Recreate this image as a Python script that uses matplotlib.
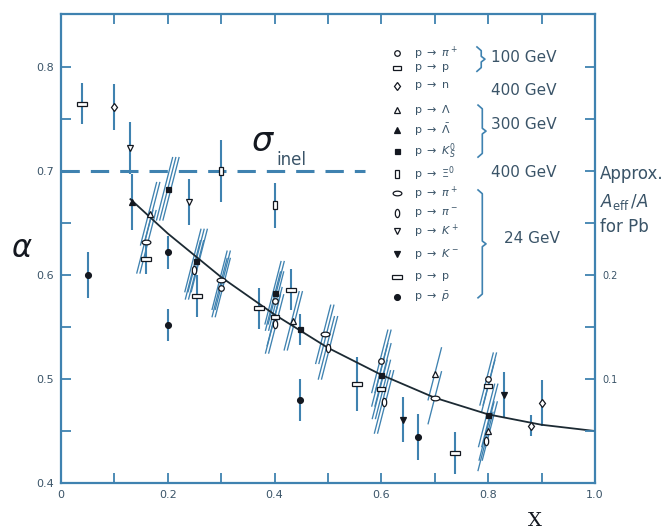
import matplotlib
matplotlib.use('Agg')
import matplotlib.pyplot as plt
from matplotlib.markers import MarkerStyle
from matplotlib.transforms import Affine2D

plt.rcParams['font.family'] = ['DejaVu Sans']
plt.rcParams['mathtext.fontset'] = 'dejavusans'

# ---------------- data ----------------
x_major = [0.0, 0.2, 0.4, 0.6, 0.8, 1.0]
x_major_labels = ['0', '0.2', '0.4', '0.6', '0.8', '1.0']
x_minor = [0.1, 0.3, 0.5, 0.7, 0.9]
y_major = [0.4, 0.5, 0.6, 0.7, 0.8]
y_major_labels = ['0.4', '0.5', '0.6', '0.7', '0.8']
y_minor = [0.45, 0.55, 0.65, 0.75]
right_ticks = [0.45, 0.5, 0.55, 0.6, 0.65, 0.7, 0.75, 0.8]
right_labels = ['', '0.1', '', '0.2', '', '', '', '']
sigma_inel_alpha = 0.70
sigma_inel_xmax = 0.57

# fitted curve
fit_x = [0.13, 0.20, 0.30, 0.40, 0.50, 0.60, 0.70, 0.80, 0.90, 1.00]
fit_a = [0.673, 0.640, 0.598, 0.562, 0.530, 0.504, 0.482, 0.466, 0.456, 0.450]

# each series: x, alpha, error, number of correlated (slanted) strokes (0 = vertical bar)
pip100_x = [0.30, 0.40, 0.60, 0.80]
pip100_a = [0.588, 0.575, 0.517, 0.500]
pip100_e = [0.028, 0.028, 0.030, 0.025]
pip100_n = [2, 2, 2, 2]

pp100_x = [0.40, 0.60, 0.80]
pp100_a = [0.560, 0.490, 0.493]
pp100_e = [0.028, 0.028, 0.025]
pp100_n = [1, 2, 1]

pn400_x = [0.10, 0.88, 0.90]
pn400_a = [0.762, 0.455, 0.477]
pn400_e = [0.022, 0.010, 0.022]
pn400_n = [0, 0, 0]

lam_x = [0.167, 0.435, 0.70, 0.80]
lam_a = [0.659, 0.556, 0.505, 0.450]
lam_e = [0.030, 0.028, 0.025, 0.028]
lam_n = [2, 2, 1, 2]

alam_x = [0.133]
alam_a = [0.670]
alam_e = [0.027]
alam_n = [0]

k0s_x = [0.20, 0.253, 0.40, 0.447, 0.60, 0.80]
k0s_a = [0.683, 0.614, 0.583, 0.548, 0.504, 0.465]
k0s_e = [0.030, 0.030, 0.030, 0.015, 0.030, 0.030]
k0s_n = [3, 3, 2, 0, 2, 2]

xi_x = [0.30, 0.40]
xi_a = [0.700, 0.667]
xi_e = [0.030, 0.022]
xi_n = [0, 0]

pip24_x = [0.16, 0.30, 0.494, 0.70]
pip24_a = [0.632, 0.595, 0.543, 0.482]
pip24_e = [0.030, 0.028, 0.028, 0.025]
pip24_n = [2, 2, 2, 1]

pim24_x = [0.25, 0.40, 0.50, 0.605, 0.795]
pim24_a = [0.605, 0.553, 0.530, 0.478, 0.440]
pim24_e = [0.028, 0.028, 0.030, 0.030, 0.028]
pim24_n = [2, 2, 2, 2, 1]

kp_x = [0.13, 0.24]
kp_a = [0.722, 0.670]
kp_e = [0.025, 0.022]
kp_n = [0, 0]

km_x = [0.64, 0.83]
km_a = [0.461, 0.485]
km_e = [0.022, 0.022]
km_n = [0, 0]

p24_x = [0.04, 0.16, 0.255, 0.37, 0.43, 0.555, 0.738]
p24_a = [0.765, 0.615, 0.580, 0.568, 0.586, 0.495, 0.429]
p24_e = [0.020, 0.014, 0.020, 0.020, 0.020, 0.026, 0.020]
p24_n = [0, 0, 0, 0, 0, 0, 0]

pbar_x = [0.05, 0.20, 0.20, 0.448, 0.668]
pbar_a = [0.600, 0.622, 0.552, 0.480, 0.444]
pbar_e = [0.022, 0.016, 0.015, 0.020, 0.022]
pbar_n = [0, 0, 0, 0, 0]

legend_labels = [r'p $\rightarrow$ $\pi^+$', r'p $\rightarrow$ p', r'p $\rightarrow$ n',
                 r'p $\rightarrow$ $\Lambda$', r'p $\rightarrow$ $\bar{\Lambda}$',
                 r'p $\rightarrow$ $K^0_S$', r'p $\rightarrow$ $\Xi^0$',
                 r'p $\rightarrow$ $\pi^+$', r'p $\rightarrow$ $\pi^-$',
                 r'p $\rightarrow$ $K^+$', r'p $\rightarrow$ $K^-$',
                 r'p $\rightarrow$ p', r'p $\rightarrow$ $\bar{p}$']
energy_labels = ['100 GeV', '400 GeV', '300 GeV', '400 GeV', '24 GeV']

# ---------------- styles ----------------
BLUE = '#3f82b0'
INK = '#141820'
TXT = '#3a5468'

def ms(shape, sx=1.0, sy=1.0):
    return MarkerStyle(shape, transform=Affine2D().scale(sx, sy))

series = [
    (pip100_x, pip100_a, pip100_e, pip100_n, ms('o'), 'white', 4.0),
    (pp100_x, pp100_a, pp100_e, pp100_n, ms('s', 1.5, 0.6), 'white', 3.8),
    (pn400_x, pn400_a, pn400_e, pn400_n, ms('D', 0.9, 1.0), 'white', 3.8),
    (lam_x, lam_a, lam_e, lam_n, ms('^'), 'white', 4.2),
    (alam_x, alam_a, alam_e, alam_n, ms('^'), INK, 4.2),
    (k0s_x, k0s_a, k0s_e, k0s_n, ms('s'), INK, 3.6),
    (xi_x, xi_a, xi_e, xi_n, ms('s', 0.7, 1.4), 'white', 4.0),
    (pip24_x, pip24_a, pip24_e, pip24_n, ms('o', 1.5, 0.8), 'white', 4.2),
    (pim24_x, pim24_a, pim24_e, pim24_n, ms('o', 0.75, 1.4), 'white', 4.2),
    (kp_x, kp_a, kp_e, kp_n, ms('v'), 'white', 4.2),
    (km_x, km_a, km_e, km_n, ms('v'), INK, 4.2),
    (p24_x, p24_a, p24_e, p24_n, ms('s', 1.7, 0.75), 'white', 4.2),
    (pbar_x, pbar_a, pbar_e, pbar_n, ms('o'), INK, 4.2),
]

fig = plt.figure(figsize=(6.65, 5.31), dpi=100)
ax = fig.add_axes([0.0917, 0.0904, 0.803, 0.883])
ax.set_xlim(0, 1.0)
ax.set_ylim(0.4, 0.851)

# sigma_inel dashed line
ax.plot([0, sigma_inel_xmax], [sigma_inel_alpha, sigma_inel_alpha], color=BLUE, lw=2.2,
        dashes=(6.0, 3.6), zorder=2)
ax.text(0.356, 0.728, r'$\sigma$', fontsize=24, color=INK, ha='left', va='center',
        family='DejaVu Serif')
ax.text(0.403, 0.711, 'inel', fontsize=12, color=TXT, ha='left', va='center')

# fit curve
ax.plot(fit_x, fit_a, color='#1c2a33', lw=1.3, zorder=3)

# error bars and markers
for xs, as_, es, ns, mk, fc, size in series:
    for x, a, e, n in zip(xs, as_, es, ns):
        if n == 0:
            ax.plot([x, x], [a - e, a + e], color=BLUE, lw=1.5, zorder=2,
                    solid_capstyle='butt')
        else:
            for i in range(n):
                off = (i - (n - 1) / 2) * 0.006
                ax.plot([x + off - 0.5 * e, x + off + 0.5 * e], [a - e, a + e],
                        color=BLUE, lw=0.95, zorder=2)
    ax.plot(xs, as_, ls='none', marker=mk, markersize=size, mfc=fc, mec=INK,
            mew=0.9, zorder=5)

# ---------------- axes styling ----------------
for s in ax.spines.values():
    s.set_color(BLUE)
    s.set_linewidth(1.6)
ax.set_xticks(x_major)
ax.set_xticklabels(x_major_labels)
ax.set_xticks(x_minor, minor=True)
ax.set_yticks(y_major)
ax.set_yticklabels(y_major_labels)
ax.set_yticks(y_minor, minor=True)
ax.tick_params(which='both', direction='in', length=7, width=1.3, color=BLUE,
               top=True, right=False, labelsize=8, labelcolor=TXT, pad=5)

ax2 = ax.twinx()
ax2.set_ylim(ax.get_ylim())
ax2.set_yticks(right_ticks)
ax2.set_yticklabels(right_labels)
ax2.tick_params(direction='in', length=7, width=1.3, color=BLUE, labelsize=7,
                labelcolor=TXT, pad=5)
for s in ax2.spines.values():
    s.set_visible(False)

# axis labels
ax.text(-0.073, 0.5, r'$\alpha$', transform=ax.transAxes, fontsize=22, color=INK,
        ha='center', va='center', family='DejaVu Serif')
ax.text(0.888, -0.080, 'X', transform=ax.transAxes, fontsize=14, color=INK,
        ha='center', va='center', family='DejaVu Serif')
ax.text(1.01, 0.66, 'Approx.', transform=ax.transAxes, fontsize=12, color=TXT,
        ha='left', va='center')
ax.text(1.01, 0.60, r'$A_{\mathrm{eff}}\,/A$', transform=ax.transAxes, fontsize=12,
        color=TXT, ha='left', va='center')
ax.text(1.01, 0.547, 'for Pb', transform=ax.transAxes, fontsize=12, color=TXT,
        ha='left', va='center')

# ---------------- manual legend ----------------
row_y = [0.917, 0.885, 0.846, 0.795, 0.753, 0.708, 0.659, 0.618, 0.576, 0.537,
         0.488, 0.439, 0.397]
for (xs, as_, es, ns, mk, fc, size), lab, yy in zip(series, legend_labels, row_y):
    ax.plot([0.629], [yy], transform=ax.transAxes, ls='none', marker=mk,
            markersize=size, mfc=fc, mec=INK, mew=0.9, clip_on=False, zorder=6)
    ax.text(0.662, yy, lab, transform=ax.transAxes, fontsize=8, color=TXT,
            ha='left', va='center')

def brace(x, top, bot):
    mid = (top + bot) / 2
    ax.plot([x - 0.008, x, x, x + 0.007, x, x, x - 0.008],
            [top, top - 0.008, mid + 0.006, mid, mid - 0.006, bot + 0.008, bot],
            transform=ax.transAxes, color=BLUE, lw=1.2, clip_on=False)

brace(0.787, 0.930, 0.878)
brace(0.789, 0.806, 0.695)
brace(0.789, 0.625, 0.395)

energy_pos = [(0.806, 0.908), (0.806, 0.838), (0.806, 0.764), (0.806, 0.662), (0.83, 0.522)]
for lab, (ex, ey) in zip(energy_labels, energy_pos):
    ax.text(ex, ey, lab, transform=ax.transAxes, fontsize=11, color=TXT,
            ha='left', va='center')

fig.savefig('out.png', dpi=100)
